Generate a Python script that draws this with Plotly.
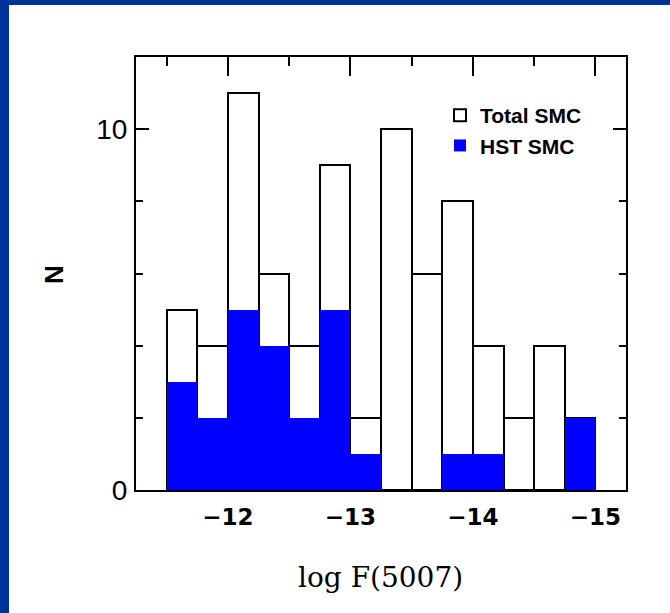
import plotly.graph_objects as go

# ---- data ----
bin_centers = [-11.625, -11.875, -12.125, -12.375, -12.625, -12.875, -13.125,
               -13.375, -13.625, -13.875, -14.125, -14.375, -14.625, -14.875]
total_smc = [5, 4, 11, 6, 4, 9, 2, 10, 6, 8, 4, 2, 4, 2]
hst_smc = [3, 2, 5, 4, 2, 5, 1, 0, 0, 1, 1, 0, 0, 2]
bin_width = 0.25
x_tickvals = [-12, -13, -14, -15]
x_ticktext = ["\u221212", "\u221213", "\u221214", "\u221215"]
y_tickvals = [0, 10]

# ---- layout geometry (pixels) ----
W, H = 670, 613
L, R, T, B = 136, 626, 57, 490

def xp(px):
    return (px - L) / (R - L)

def yp(py):
    return (B - py) / (B - T)

fig = go.Figure()
fig.add_trace(go.Bar(
    x=bin_centers, y=total_smc, width=bin_width, name="Total SMC",
    marker=dict(color="white", line=dict(color="black", width=2)),
))
fig.add_trace(go.Bar(
    x=bin_centers, y=hst_smc, width=bin_width, name="HST SMC",
    marker=dict(color="#0000ff", line=dict(color="#0000ff", width=0)),
))
# invisible trace to activate the top axis
fig.add_trace(go.Scatter(x=[bin_centers[0]], y=[0], xaxis="x2", mode="markers",
                         marker=dict(opacity=0), showlegend=False, hoverinfo="skip"))

fig.update_layout(
    width=W, height=H,
    margin=dict(l=L, r=W - R, t=T, b=H - B, pad=0),
    paper_bgcolor="white", plot_bgcolor="white",
    barmode="overlay", bargap=0,
    showlegend=True,
    legend=dict(x=xp(440), y=yp(95), xanchor="left", yanchor="top",
                bgcolor="rgba(0,0,0,0)", borderwidth=0,
                font=dict(family="Liberation Sans", size=21, color="black", weight="bold"),
                tracegroupgap=0, itemsizing="constant"),
    xaxis=dict(range=[-11.25, -15.25], showgrid=False, zeroline=False,
               showline=True, linecolor="black", linewidth=2, mirror=True,
               ticks="", tickmode="array", tickvals=x_tickvals, ticktext=x_ticktext,
               tickfont=dict(family="DejaVu Sans", size=23, color="black", weight="bold"),
               ticklabelstandoff=5),
    xaxis2=dict(range=[-11.25, -15.25], overlaying="x", side="top",
                showgrid=False, zeroline=False, showline=False,
                ticks="inside", tickmode="linear", tick0=-12, dtick=1,
                ticklen=19, tickwidth=2, tickcolor="black", showticklabels=False,
                minor=dict(ticks="inside", dtick=0.5, tick0=-12, ticklen=9,
                           tickwidth=2, tickcolor="black")),
    yaxis=dict(range=[0, 12], showgrid=False, zeroline=False,
               showline=True, linecolor="black", linewidth=2, mirror="ticks",
               ticks="inside", tickmode="array", tickvals=y_tickvals,
               ticklen=13, tickwidth=2, tickcolor="black",
               minor=dict(ticks="inside", dtick=2, tick0=0, ticklen=7,
                          tickwidth=2, tickcolor="black"),
               tickfont=dict(family="Liberation Sans", size=28, color="black"),
               ticklabelstandoff=1),
    shapes=[
        dict(type="rect", xref="paper", yref="paper",
             x0=xp(0), x1=xp(9), y0=yp(H), y1=yp(0),
             fillcolor="#003399", line=dict(width=0), layer="above"),
        dict(type="rect", xref="paper", yref="paper",
             x0=xp(0), x1=xp(W), y0=yp(5), y1=yp(0),
             fillcolor="#003399", line=dict(width=0), layer="above"),
    ],
    annotations=[
        dict(text="N", xref="paper", yref="paper", x=xp(54), y=yp(275),
             showarrow=False, textangle=-90, xanchor="center", yanchor="middle",
             font=dict(family="Liberation Sans", size=26, color="black", weight="bold")),
        dict(text="log F(5007)", xref="paper", yref="paper", x=xp(380), y=yp(577),
             showarrow=False, xanchor="center", yanchor="middle",
             font=dict(family="DejaVu Serif", size=28, color="black")),
    ],
)

fig.write_html("out.html")
